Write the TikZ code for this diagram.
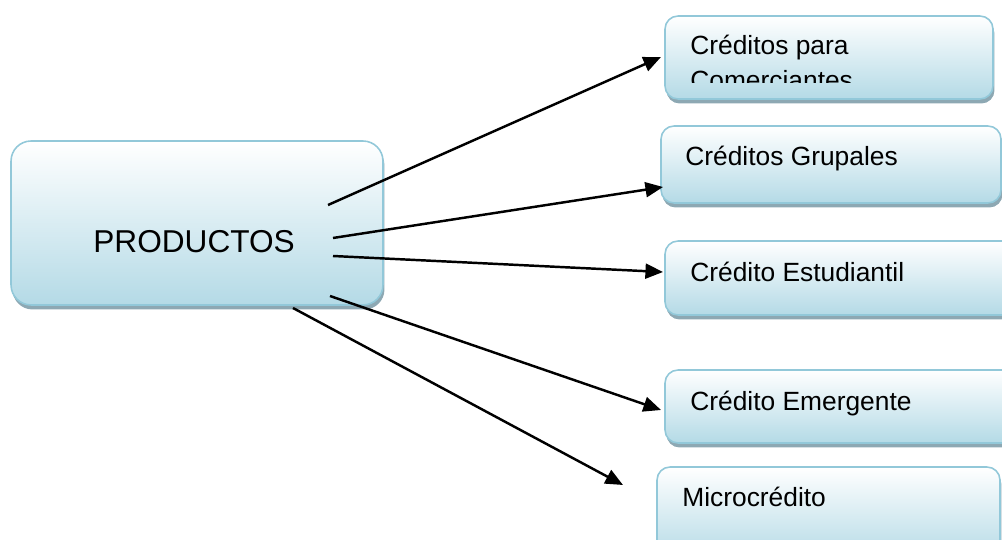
\documentclass[tikz,border=0pt]{standalone}
\usepackage{fontspec}
\setmainfont{Liberation Sans}
\usetikzlibrary{arrows.meta,shadows}
\definecolor{boxedge}{HTML}{92C8D9}
\definecolor{boxfill}{HTML}{B4DAE6}
\definecolor{boxshadow}{HTML}{8DA8B3}
\tikzset{
  box/.style={draw=boxedge, line width=0.9pt, rounded corners=0.26cm,
    top color=white, bottom color=boxfill, inner sep=0pt,
    drop shadow={shadow xshift=0.03cm, shadow yshift=-0.09cm,
      fill=boxshadow, opacity=1}},
  lbl/.style={inner sep=0pt, font=\fontsize{15}{18}\selectfont},
  link/.style={line width=1.4pt, -{Triangle[length=10pt,width=8.5pt]}}
}
\begin{document}
\begin{tikzpicture}[x=0.02cm, y=-0.02cm]
\useasboundingbox (0,0) rectangle (1002,540);
\clip (0,0) rectangle (1002,540);

% boxes
\node[box, rounded corners=0.4cm, minimum width=7.44cm, minimum height=3.28cm] (prod) at (197,223) {};
\node[box, minimum width=6.56cm, minimum height=1.66cm] (b1) at (829,57.5) {};
\node[box, minimum width=6.8cm, minimum height=1.54cm] (b2) at (831,164.5) {};
\node[box, minimum width=7.0cm, minimum height=1.48cm] (b3) at (840,278) {};
\node[box, minimum width=7.0cm, minimum height=1.46cm] (b4) at (840,406.5) {};
\node[box, minimum width=6.86cm, minimum height=1.86cm] (b5) at (828.5,513.5) {};

% labels
\node[inner sep=0pt, font=\fontsize{18}{21}\selectfont, anchor=base west] (tp) at (93,253) {PRODUCTOS};
\node[lbl, anchor=base west] (t1a) at (690,55) {Créditos para};
\begin{scope}
  % second line runs past the bottom of its text frame
  \clip (660,0) rectangle (1000,83);
  \node[lbl, anchor=base west] (t1b) at (690,90) {Comerciantes};
\end{scope}
\node[lbl, anchor=base west] (t2) at (685,166) {Créditos Grupales};
\node[lbl, anchor=base west] (t3) at (690,282) {Crédito Estudiantil};
\node[lbl, anchor=base west] (t4) at (690,411) {Crédito Emergente};
\node[lbl, anchor=base west] (t5) at (682,507) {Microcrédito};

% connector ends
\coordinate (s1) at (328,205);
\coordinate (s2) at (333,238);
\coordinate (s3) at (333,256);
\coordinate (s4) at (330,296);
\coordinate (s5) at (293,308);
\coordinate (e1) at (661,57);
\coordinate (e2) at (663,187);
\coordinate (e3) at (663,272);
\coordinate (e4) at (661,410);
\coordinate (e5) at (623,485);

% connectors
\draw[link] (s1) -- (e1);
\draw[link] (s2) -- (e2);
\draw[link] (s3) -- (e3);
\draw[link] (s4) -- (e4);
\draw[link] (s5) -- (e5);
\end{tikzpicture}
\end{document}
